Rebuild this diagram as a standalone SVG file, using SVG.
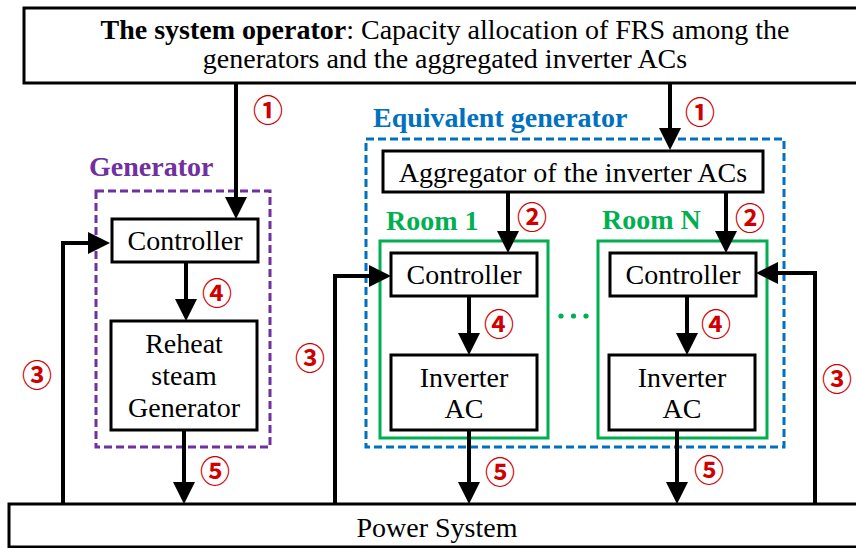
<svg xmlns="http://www.w3.org/2000/svg" width="856" height="548" viewBox="0 0 856 548">
<defs>
<marker id="ah" markerUnits="userSpaceOnUse" markerWidth="22" markerHeight="22" viewBox="0 0 22 22" refX="12" refY="11" orient="auto">
<path d="M0,0 L22,11 L0,22 z" fill="#000"/>
</marker>
<style>
.box{fill:#fff;stroke:#000;stroke-width:3}
.t{font-family:"Liberation Serif","Times New Roman",serif;font-size:28px;fill:#000}
.b{font-weight:bold}
.gen{fill:none;stroke:#7030a0;stroke-width:3;stroke-dasharray:8 4}
.eq{fill:none;stroke:#0070c0;stroke-width:3;stroke-dasharray:8 4}
.room{fill:none;stroke:#00b050;stroke-width:3}
.c{fill:none;stroke:#000;stroke-width:4;marker-end:url(#ah)}
.n{font-family:"Noto Sans CJK JP","DejaVu Sans",sans-serif;font-size:30px;font-weight:bold;fill:#d00000;text-anchor:middle;dominant-baseline:central}
</style>
</defs>
<rect width="856" height="548" fill="#fff"/>

<g id="operator">
<rect class="box" x="24" y="8" width="845" height="75"/>
<text class="t" x="445" y="39" text-anchor="middle"><tspan class="b">The system operator</tspan>: Capacity allocation of FRS among the</text>
<text class="t" x="445" y="68" text-anchor="middle">generators and the aggregated inverter ACs</text>
</g>

<g id="generator">
<rect class="gen" x="96" y="191" width="174" height="256"/>
<text class="t b" x="89" y="176" style="fill:#7030a0">Generator</text>
</g>
<g id="gen-controller">
<rect class="box" x="112" y="219" width="146" height="43"/>
<text class="t" x="185" y="250" text-anchor="middle">Controller</text>
</g>
<g id="reheat">
<rect class="box" x="111" y="321" width="146" height="109"/>
<text class="t" x="184" y="353" text-anchor="middle">Reheat</text>
<text class="t" x="184" y="385" text-anchor="middle">steam</text>
<text class="t" x="184" y="417" text-anchor="middle">Generator</text>
</g>

<g id="equivalent">
<rect class="eq" x="366" y="139" width="418" height="308"/>
<text class="t b" x="373" y="127" style="fill:#0070c0">Equivalent generator</text>
</g>
<g id="aggregator">
<rect class="box" x="383" y="151" width="380" height="41"/>
<text class="t" x="573" y="182" text-anchor="middle">Aggregator of the inverter ACs</text>
</g>

<g id="room1">
<rect class="room" x="380" y="241" width="168" height="197"/>
<text class="t b" x="386" y="230" style="fill:#00b050">Room 1</text>
</g>
<g id="room1-controller">
<rect class="box" x="391" y="253" width="146" height="43"/>
<text class="t" x="464" y="284" text-anchor="middle">Controller</text>
</g>
<g id="room1-ac">
<rect class="box" x="391" y="355" width="146" height="75"/>
<text class="t" x="464" y="387" text-anchor="middle">Inverter</text>
<text class="t" x="464" y="418" text-anchor="middle">AC</text>
</g>

<g id="dots" fill="#00b050">
<circle cx="561" cy="316" r="2.6"/>
<circle cx="573.5" cy="316" r="2.6"/>
<circle cx="586" cy="316" r="2.6"/>
</g>

<g id="roomN">
<rect class="room" x="598" y="241" width="169" height="197"/>
<text class="t b" x="602" y="229" style="fill:#00b050">Room N</text>
</g>
<g id="roomN-controller">
<rect class="box" x="610" y="253" width="146" height="43"/>
<text class="t" x="683" y="284" text-anchor="middle">Controller</text>
</g>
<g id="roomN-ac">
<rect class="box" x="609" y="355" width="146" height="75"/>
<text class="t" x="682" y="387" text-anchor="middle">Inverter</text>
<text class="t" x="682" y="418" text-anchor="middle">AC</text>
</g>

<g id="power">
<rect class="box" x="9" y="504" width="860" height="43"/>
<text class="t" x="437" y="537" text-anchor="middle">Power System</text>
</g>

<g id="connectors">
<path class="c" d="M236,83 V209"/>
<path class="c" d="M670,83 V140"/>
<path class="c" d="M63,504 V243 H100"/>
<path class="c" d="M186,262 V311"/>
<path class="c" d="M184,430 V494"/>
<path class="c" d="M508,192 V243"/>
<path class="c" d="M726,193 V243"/>
<path class="c" d="M335,504 V276 H381"/>
<path class="c" d="M815,504 V273 H766"/>
<path class="c" d="M469,296 V345"/>
<path class="c" d="M687,296 V345"/>
<path class="c" d="M469,430 V494"/>
<path class="c" d="M677,430 V494"/>
</g>

<g id="labels">
<text class="n" x="268" y="108">①</text>
<text class="n" x="700" y="110">①</text>
<text class="n" x="532" y="215">②</text>
<text class="n" x="750" y="216">②</text>
<text class="n" x="37" y="373">③</text>
<text class="n" x="310" y="356">③</text>
<text class="n" x="837" y="377">③</text>
<text class="n" x="217" y="291">④</text>
<text class="n" x="499" y="322">④</text>
<text class="n" x="716" y="322">④</text>
<text class="n" x="215" y="469">⑤</text>
<text class="n" x="500" y="470">⑤</text>
<text class="n" x="709" y="468">⑤</text>
</g>
</svg>
